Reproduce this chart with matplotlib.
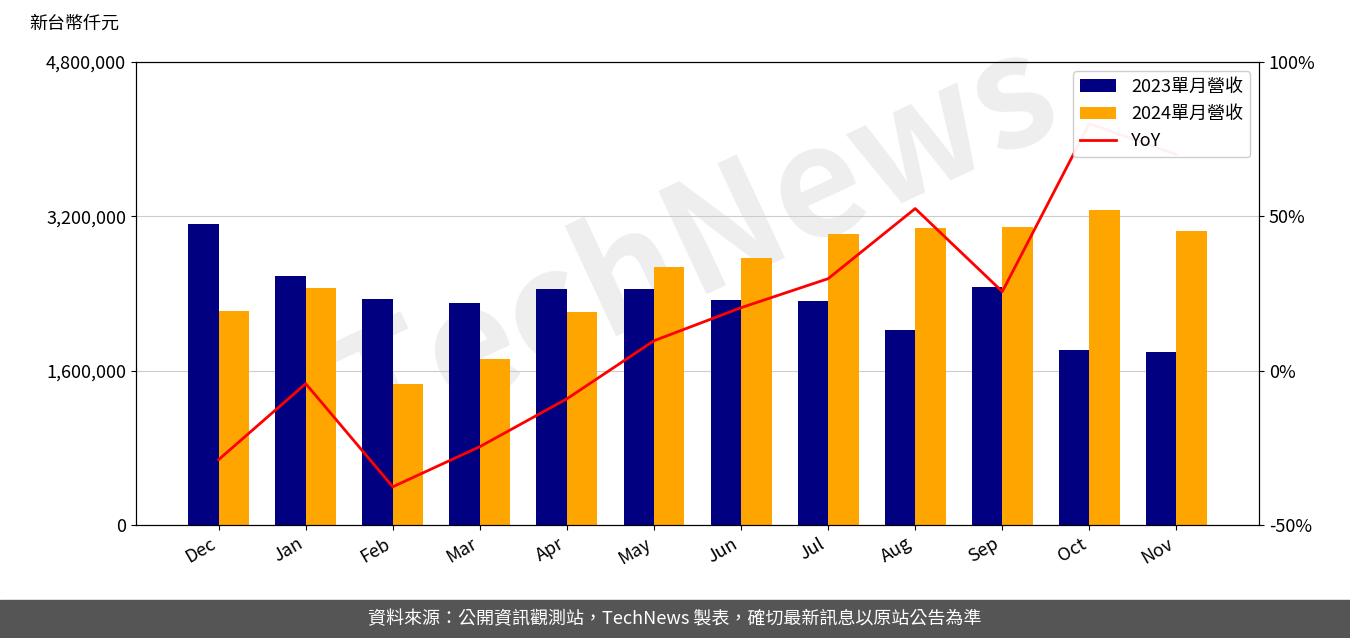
import numpy as np
import matplotlib.pyplot as plt

plt.rcParams['font.family'] = ['Noto Sans CJK TC', 'DejaVu Sans']

months = ["Dec", "Jan", "Feb", "Mar", "Apr", "May", "Jun", "Jul", "Aug", "Sep", "Oct", "Nov"]
rev_2023 = [3120000, 2580000, 2340000, 2300000, 2450000, 2450000, 2330000, 2320000, 2020000, 2470000, 1810000, 1790000]
rev_2024 = [2220000, 2460000, 1460000, 1720000, 2210000, 2670000, 2770000, 3020000, 3080000, 3090000, 3270000, 3050000]
yoy = [-28.8, -4.2, -37.6, -24.6, -9.1, 9.7, 20.4, 29.8, 52.5, 25.6, 80.0, 70.0]

fig = plt.figure(figsize=(13.5, 6.38), dpi=100)
ax = fig.add_axes([0.1007, 0.177, 0.832, 0.726])
x = np.arange(len(months))
w = 0.35
ax.bar(x - w / 2, rev_2023, w, color="#000080", label="2023單月營收", zorder=2)
ax.bar(x + w / 2, rev_2024, w, color="#FFA500", label="2024單月營收", zorder=2)
ax.set_ylim(0, 4800000)
ax.set_yticks([0, 1600000, 3200000, 4800000])
ax.set_yticklabels(["0", "1,600,000", "3,200,000", "4,800,000"], fontsize=13)
ax.grid(axis="y", color="#cccccc", zorder=0)
ax.set_xticks(x)
ax.set_xticklabels(months, rotation=30, ha="right", fontsize=13)
ax.set_xlim(-0.95, 11.95)
ax.text(0.5, 0.6, "TechNews", transform=ax.transAxes, fontsize=110, rotation=25,
        color="#eeeeee", ha="center", va="center", fontweight="bold", zorder=1)

ax2 = ax.twinx()
ax2.plot(x, yoy, color="red", linewidth=2, label="YoY")
ax2.set_ylim(-50, 100)
ax2.set_yticks([-50, 0, 50, 100])
ax2.set_yticklabels(["-50%", "0%", "50%", "100%"], fontsize=13)

h1, l1 = ax.get_legend_handles_labels()
h2, l2 = ax2.get_legend_handles_labels()
ax2.legend(h1 + h2, l1 + l2, loc="upper right", fontsize=13, framealpha=0.95)

fig.text(0.022, 0.955, "新台幣仟元", fontsize=13)
fig.patches.append(plt.Rectangle((0, 0), 1, 0.06, transform=fig.transFigure,
                                 color="#555555", zorder=0))
fig.text(0.5, 0.03, "資料來源：公開資訊觀測站，TechNews 製表，確切最新訊息以原站公告為準",
         color="white", fontsize=13, ha="center", va="center")

fig.savefig("out.png", dpi=100)
